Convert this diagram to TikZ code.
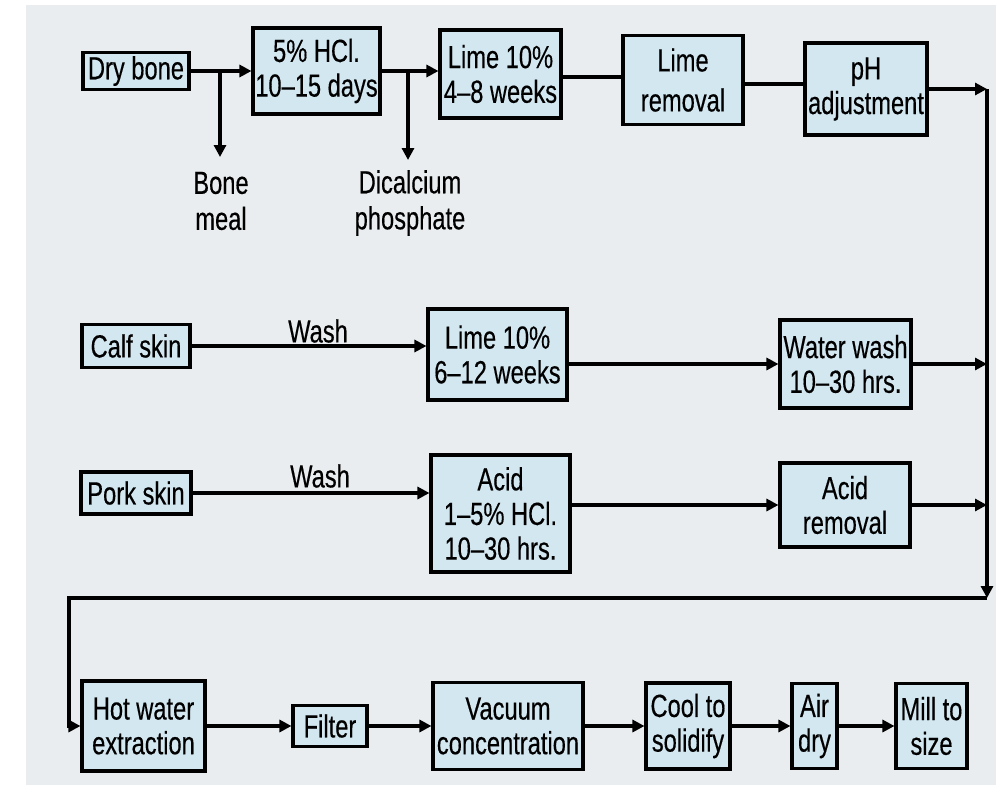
\documentclass[tikz,border=0pt]{standalone}
\usepackage{fontspec}
\setmainfont[FakeStretch=0.74,FakeBold=0.35]{Liberation Sans}
\usetikzlibrary{arrows.meta}
\definecolor{pagegrey}{HTML}{E9EDEF}
\definecolor{boxblue}{HTML}{D3E7F1}
\newcommand\pxl[1]{#1*0.75pt}
\tikzset{
  box/.style={draw=black, line width=2.3pt, fill=boxblue, inner sep=0pt, align=center,
              font=\fontsize{24}{26}\selectfont},
  lbl/.style={inner sep=0pt, align=center, font=\fontsize{24}{27}\selectfont},
  conn/.style={line width=2.5pt},
  arr/.style={line width=2.5pt, -{Triangle[length=9pt,width=9pt]}}
}
\begin{document}
\begin{tikzpicture}[x=0.75pt,y=-0.75pt]
\useasboundingbox (0,0) rectangle (996,785);
\fill[white] (0,0) rectangle (996,785);
\fill[pagegrey] (26,5) rectangle (996,785);

% row 1
\node[box, minimum width=\pxl{106}, minimum height=\pxl{37}] (drybone) at (136,71) {Dry bone};
\node[box, minimum width=\pxl{127}, minimum height=\pxl{86}] (hcl) at (316.5,71) {5\% HCl.\\10–15 days};
\node[box, minimum width=\pxl{121}, minimum height=\pxl{88}] (lime1) at (500.5,74) {Lime 10\%\\4–8 weeks};
\node[box, minimum width=\pxl{120}, minimum height=\pxl{89}, font=\fontsize{24}{30}\selectfont] (limerem) at (683,80) {Lime\\removal};
\node[box, minimum width=\pxl{122}, minimum height=\pxl{92}] (ph) at (866,89) {pH\\adjustment};

\coordinate (j1) at (220,71);
\coordinate (j1e) at (220,157);
\coordinate (j2) at (408,71);
\coordinate (j2e) at (408,160);
\node[lbl] (bonemeal) at (221,201) {Bone\\meal};
\node[lbl] (dical) at (410,203) {Dicalcium\\phosphate};

% row 2
\node[box, minimum width=\pxl{108}, minimum height=\pxl{43}] (calf) at (136,346) {Calf skin};
\node[box, minimum width=\pxl{139}, minimum height=\pxl{91}] (lime2) at (497.5,354.5) {Lime 10\%\\6–12 weeks};
\node[box, minimum width=\pxl{131}, minimum height=\pxl{88}] (wwash) at (845.5,364) {Water wash\\10–30 hrs.};
\node[lbl] (wash1) at (318,331) {Wash};

% row 3
\node[box, minimum width=\pxl{110}, minimum height=\pxl{42}] (pork) at (136,493) {Pork skin};
\node[box, minimum width=\pxl{139}, minimum height=\pxl{117}] (acid) at (500.5,513.5) {Acid\\1–5\% HCl.\\10–30 hrs.};
\node[box, minimum width=\pxl{130}, minimum height=\pxl{84}] (acidrem) at (845,505) {Acid\\removal};
\node[lbl] (wash2) at (320,476) {Wash};

% row 4
\node[box, minimum width=\pxl{123}, minimum height=\pxl{90}] (hot) at (143.5,726) {Hot water\\extraction};
\node[box, minimum width=\pxl{74}, minimum height=\pxl{41}] (filter) at (330,726) {Filter};
\node[box, minimum width=\pxl{150}, minimum height=\pxl{87}] (vac) at (508,726) {Vacuum\\concentration};
\node[box, minimum width=\pxl{84}, minimum height=\pxl{86}] (cool) at (688,726) {Cool to\\solidify};
\node[box, minimum width=\pxl{45}, minimum height=\pxl{85}] (air) at (814.5,726) {Air\\dry};
\node[box, minimum width=\pxl{71}, minimum height=\pxl{85}] (mill) at (931.5,726) {Mill to\\size};

% bus coordinates
\coordinate (busTop) at (987,89);
\coordinate (busBot) at (987,598);
\coordinate (loopL) at (69,598);

% connectors row 1
\draw[arr] (drybone.east) -- (drybone.east -| hcl.west);
\draw[arr] (j1) -- (j1e);
\draw[arr] (hcl.east) -- (hcl.east -| lime1.west);
\draw[arr] (j2) -- (j2e);
\draw[conn] (lime1.east |- 0,77) -- (limerem.west |- 0,77);
\draw[conn] (limerem.east |- 0,84) -- (ph.west |- 0,84);
\draw[arr] (ph.east) -- (busTop);

% row 2
\draw[arr] (calf.east) -- (calf.east -| lime2.west);
\draw[arr] (lime2.east |- wwash.west) -- (wwash.west);
\draw[arr] (wwash.east) -- (wwash.east -| busTop);

% row 3
\draw[arr] (pork.east) -- (pork.east -| acid.west);
\draw[arr] (acid.east |- acidrem.west) -- (acidrem.west);
\draw[arr] (acidrem.east) -- (acidrem.east -| busTop);

% bus and loop
\draw[arr] (busTop) -- (busBot);
\draw[arr] (busBot) -- (loopL) |- (hot.west);

% row 4
\draw[arr] (hot.east) -- (filter.west);
\draw[arr] (filter.east) -- (vac.west);
\draw[arr] (vac.east) -- (cool.west);
\draw[arr] (cool.east) -- (air.west);
\draw[arr] (air.east) -- (mill.west);
\end{tikzpicture}
\end{document}
